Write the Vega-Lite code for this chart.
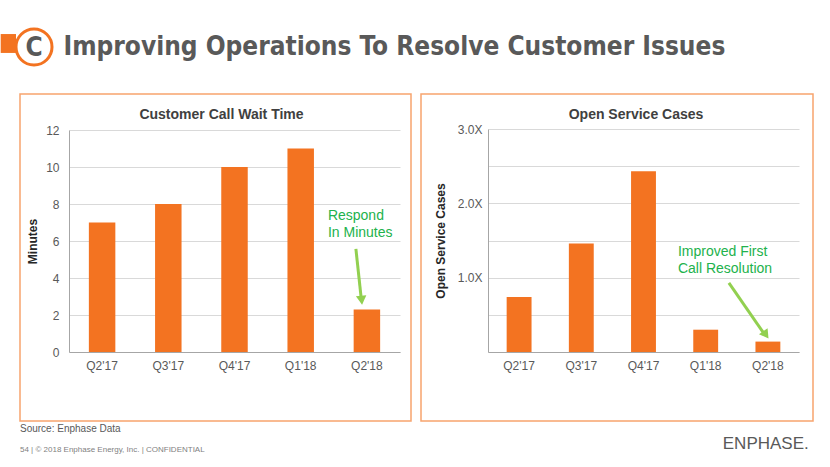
{
  "$schema": "https://vega.github.io/schema/vega-lite/v6.json",
  "background": "#FFFFFF",
  "padding": {"left": 0, "top": 23, "right": 0, "bottom": 0},
  "config": {
    "font": "Liberation Sans",
    "view": {"stroke": null},
    "axis": {"labelFont": "Liberation Sans", "titleFont": "Liberation Sans"}
  },
  "datasets": {
    "badge": [{"badge": "C"}],
    "heading": [{"heading": "Improving Operations To Resolve Customer Issues"}],
    "wait": [
      {"quarter": "Q2'17", "minutes": 7},
      {"quarter": "Q3'17", "minutes": 8},
      {"quarter": "Q4'17", "minutes": 10},
      {"quarter": "Q1'18", "minutes": 11},
      {"quarter": "Q2'18", "minutes": 2.3}
    ],
    "waitNote": [{"quarter": "Q2'18", "note": ["Respond", "In Minutes"], "noteY": 7.33, "from": 5.57, "to": 2.8}],
    "cases": [
      {"quarter": "Q2'17", "cases": 0.74},
      {"quarter": "Q3'17", "cases": 1.46},
      {"quarter": "Q4'17", "cases": 2.43},
      {"quarter": "Q1'18", "cases": 0.30},
      {"quarter": "Q2'18", "cases": 0.14}
    ],
    "casesNote": [{"quarter": "Q2'18", "note": ["Improved First", "Call Resolution"], "noteY": 1.34, "from": 0.93, "to": 0.23}]
  },
  "title": {
    "text": "ENPHASE.",
    "orient": "bottom",
    "anchor": "end",
    "offset": -18,
    "dx": -5,
    "fontSize": 17,
    "fontWeight": "normal",
    "font": "Liberation Sans",
    "color": "#595959"
  },
  "vconcat": [
    {
      "bounds": "flush",
      "spacing": 15,
      "hconcat": [
        {
          "width": 28,
          "height": 30,
          "data": {"name": "badge"},
          "layer": [
            {"mark": {"type": "point", "shape": "M-1.85,-0.72H-1V0.33H-1.85Z", "size": 1296, "filled": true, "color": "#F37321", "opacity": 1}, "encoding": {}},
            {"mark": {"type": "point", "shape": "circle", "size": 1296, "filled": true, "fill": "#FFFFFF", "stroke": "#F37321", "strokeWidth": 3, "opacity": 1}, "encoding": {}},
            {"mark": {"type": "text", "fontSize": 26, "font": "Liberation Sans Narrow, DejaVu Sans Condensed, Liberation Sans", "fontWeight": "bold", "color": "#595959", "baseline": "middle", "dy": 1}, "encoding": {"text": {"field": "badge"}}}
          ]
        },
        {
          "width": 1,
          "height": 30,
          "data": {"name": "heading"},
          "mark": {"type": "text", "align": "left", "baseline": "middle", "fontSize": 26, "font": "Liberation Sans Narrow, DejaVu Sans Condensed, Liberation Sans", "fontWeight": "bold", "color": "#595959"},
          "encoding": {"text": {"field": "heading"}}
        }
      ]
    },
    {
      "bounds": "flush",
      "spacing": 10,
      "title": {
        "text": "Source: Enphase Data",
        "subtitle": "54   |  © 2018 Enphase Energy, Inc.  |  CONFIDENTIAL",
        "orient": "bottom",
        "anchor": "start",
        "frame": "group",
        "offset": 2,
        "fontSize": 10,
        "fontWeight": "normal",
        "color": "#595959",
        "subtitleFontSize": 8,
        "subtitleColor": "#7F7F7F",
        "subtitlePadding": 12
      },
      "hconcat": [
        {
          "width": 391,
          "height": 327,
          "view": {"stroke": "#F7A46E", "strokeWidth": 1.5},
          "title": {"text": "Customer Call Wait Time", "frame": "group", "anchor": "middle", "offset": -28, "fontSize": 14, "fontWeight": "bold", "color": "#404040", "dx": 6},
          "layer": [
            {
              "data": {"name": "wait"},
              "mark": {"type": "bar", "color": "#F37321"},
              "encoding": {
                "x": {"field": "quarter", "type": "ordinal", "sort": null,
                  "scale": {"domain": ["Q2'17", "Q3'17", "Q4'17", "Q1'18", "Q2'18"], "range": [49, 380], "paddingInner": 0.6, "paddingOuter": 0.3},
                  "axis": {"orient": "bottom", "offset": -69, "title": null, "labelAngle": 0, "ticks": false, "labelPadding": 8, "labelFontSize": 12, "labelColor": "#595959", "domainColor": "#A6A6A6", "domainWidth": 1.2, "grid": false}},
                "y": {"field": "minutes", "type": "quantitative",
                  "scale": {"domain": [0, 12], "range": [258, 36], "nice": false, "zero": true},
                  "axis": {"orient": "left", "offset": -49, "title": "Minutes", "titleFontSize": 12, "titleFontWeight": "bold", "titleColor": "#262626", "titlePadding": 6, "values": [0, 2, 4, 6, 8, 10, 12], "ticks": false, "labelPadding": 10, "labelFontSize": 12, "labelColor": "#595959", "domainColor": "#A6A6A6", "grid": true, "gridColor": "#D9D9D9"}}
              }
            },
            {
              "data": {"name": "waitNote"},
              "mark": {"type": "text", "align": "left", "baseline": "middle", "dx": -39, "fontSize": 14, "lineHeight": 17, "color": "#22B24C"},
              "encoding": {
                "x": {"field": "quarter", "type": "ordinal", "sort": null},
                "y": {"field": "noteY", "type": "quantitative"},
                "text": {"field": "note"}
              }
            },
            {
              "data": {"name": "waitNote"},
              "mark": {"type": "rule", "color": "#92D050", "strokeWidth": 3, "xOffset": -11, "x2Offset": -5.5},
              "encoding": {
                "x": {"field": "quarter", "type": "ordinal", "sort": null},
                "x2": {"field": "quarter"},
                "y": {"field": "from", "type": "quantitative"},
                "y2": {"field": "to"}
              }
            },
            {
              "data": {"name": "waitNote"},
              "mark": {"type": "point", "shape": "triangle-down", "size": 110, "filled": true, "color": "#92D050", "opacity": 1, "angle": -6, "xOffset": -5.3},
              "encoding": {
                "x": {"field": "quarter", "type": "ordinal", "sort": null},
                "y": {"field": "to", "type": "quantitative"}
              }
            }
          ]
        },
        {
          "width": 392,
          "height": 327,
          "view": {"stroke": "#F7A46E", "strokeWidth": 1.5},
          "title": {"text": "Open Service Cases", "frame": "group", "anchor": "middle", "offset": -28, "fontSize": 14, "fontWeight": "bold", "color": "#404040", "dx": 19},
          "layer": [
            {
              "data": {"name": "cases"},
              "mark": {"type": "bar", "color": "#F37321"},
              "encoding": {
                "x": {"field": "quarter", "type": "ordinal", "sort": null,
                  "scale": {"domain": ["Q2'17", "Q3'17", "Q4'17", "Q1'18", "Q2'18"], "range": [67, 378], "paddingInner": 0.6, "paddingOuter": 0.3},
                  "axis": {"orient": "bottom", "offset": -69, "title": null, "labelAngle": 0, "ticks": false, "labelPadding": 8, "labelFontSize": 12, "labelColor": "#595959", "domainColor": "#A6A6A6", "domainWidth": 1.2, "grid": false}},
                "y": {"field": "cases", "type": "quantitative",
                  "scale": {"domain": [0, 3], "range": [258, 35], "nice": false, "zero": true},
                  "axis": {"orient": "left", "offset": -67, "title": "Open Service Cases", "titleFontSize": 12, "titleFontWeight": "bold", "titleColor": "#262626", "titlePadding": 10, "values": [0, 0.5, 1, 1.5, 2, 2.5, 3], "labelExpr": "datum.value > 0 && datum.value % 1 == 0 ? format(datum.value, '.1f') + 'X' : ''", "ticks": false, "labelPadding": 6, "labelFontSize": 12, "labelColor": "#595959", "domainColor": "#A6A6A6", "grid": true, "gridColor": "#D9D9D9"}}
              }
            },
            {
              "data": {"name": "casesNote"},
              "mark": {"type": "text", "align": "left", "baseline": "middle", "dx": -90, "fontSize": 14, "lineHeight": 17, "color": "#22B24C"},
              "encoding": {
                "x": {"field": "quarter", "type": "ordinal", "sort": null},
                "y": {"field": "noteY", "type": "quantitative"},
                "text": {"field": "note"}
              }
            },
            {
              "data": {"name": "casesNote"},
              "mark": {"type": "rule", "color": "#92D050", "strokeWidth": 3, "xOffset": -39, "x2Offset": -3},
              "encoding": {
                "x": {"field": "quarter", "type": "ordinal", "sort": null},
                "x2": {"field": "quarter"},
                "y": {"field": "from", "type": "quantitative"},
                "y2": {"field": "to"}
              }
            },
            {
              "data": {"name": "casesNote"},
              "mark": {"type": "point", "shape": "triangle-down", "size": 110, "filled": true, "color": "#92D050", "opacity": 1, "angle": -35, "xOffset": -2},
              "encoding": {
                "x": {"field": "quarter", "type": "ordinal", "sort": null},
                "y": {"field": "to", "type": "quantitative"}
              }
            }
          ]
        }
      ]
    }
  ],
  "spacing": 62,
  "bounds": "flush"
}
